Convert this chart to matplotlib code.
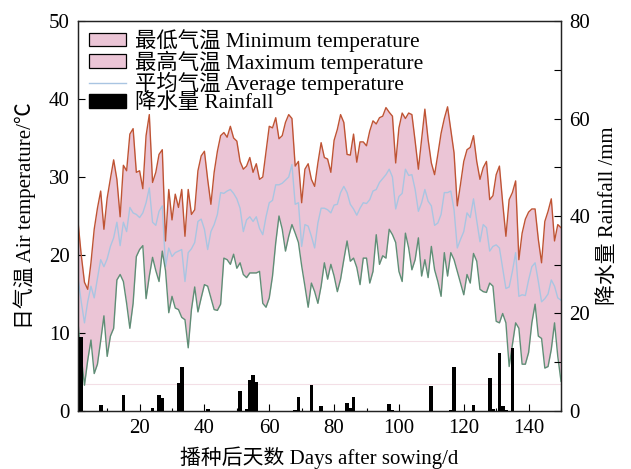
import numpy as np
import matplotlib
matplotlib.use("Agg")
import matplotlib.pyplot as plt
from matplotlib.patches import Patch
from matplotlib.lines import Line2D

plt.rcParams["font.family"] = ["Liberation Serif", "Noto Sans CJK SC"]
plt.rcParams["axes.unicode_minus"] = False

# daily values, days 1..150
days = np.arange(1, 151)

t_max = [
    24.3, 20.0, 16.5, 15.6, 19.0, 23.3, 26.0, 28.2, 23.3, 27.3,
    29.8, 32.2, 29.7, 24.9, 31.5, 30.8, 35.5, 36.2, 30.6, 30.8,
    28.5, 35.3, 38.0, 29.3, 30.6, 32.9, 33.5, 21.8, 28.4, 24.5,
    27.8, 26.1, 28.4, 22.4, 28.4, 25.2, 25.8, 30.8, 32.7, 33.3,
    29.7, 26.5, 30.6, 33.3, 35.3, 35.7, 35.1, 36.5, 35.0, 34.6,
    32.0, 31.0, 31.4, 32.5, 30.6, 31.7, 29.7, 30.0, 33.3, 36.5,
    36.3, 37.6, 34.9, 35.3, 37.0, 38.0, 37.5, 31.4, 32.0, 26.7,
    31.0, 31.7, 29.7, 28.8, 31.8, 34.4, 32.5, 32.3, 30.6, 34.7,
    36.1, 38.0, 37.0, 32.9, 32.8, 35.5, 31.9, 34.5, 34.5, 34.0,
    35.9, 37.2, 36.8, 37.6, 37.8, 38.9, 38.3, 37.8, 31.8, 36.3,
    38.2, 37.5, 38.2, 38.0, 34.6, 31.0, 34.8, 38.7, 34.8, 31.8,
    30.3, 32.9, 35.6, 37.5, 39.0, 36.1, 33.1, 26.3, 29.1, 32.0,
    33.5, 33.8, 35.3, 32.0, 29.7, 31.2, 32.0, 27.1, 27.6, 30.3,
    31.4, 26.7, 22.4, 27.1, 28.0, 29.5, 19.4, 22.8, 24.6, 25.5,
    25.9, 25.9, 22.0, 19.0, 24.3, 25.6, 27.2, 21.8, 23.9, 23.5,
]

t_min = [
    11.3, 7.0, 3.3, 6.5, 9.1, 4.8, 6.0, 9.0, 12.2, 7.0,
    9.6, 10.6, 16.8, 17.5, 16.6, 13.8, 10.6, 13.8, 19.8, 20.7,
    21.2, 14.4, 17.3, 19.7, 18.0, 16.6, 20.5, 18.0, 12.6, 14.7,
    13.2, 13.0, 12.0, 11.7, 8.1, 13.0, 15.9, 12.7, 14.5, 16.2,
    16.0, 14.5, 13.0, 12.9, 13.7, 19.6, 19.4, 18.8, 20.1, 18.3,
    19.0, 17.5, 17.1, 17.7, 17.7, 17.7, 17.9, 13.8, 13.3, 14.5,
    17.3, 21.6, 25.0, 23.3, 20.5, 22.4, 23.9, 22.8, 21.6, 18.6,
    16.0, 13.3, 16.4, 15.3, 13.8, 16.0, 19.0, 16.9, 18.8, 17.3,
    15.3, 16.9, 19.4, 21.8, 19.2, 19.6, 18.4, 16.2, 19.6, 19.6,
    16.4, 17.9, 22.6, 18.8, 19.9, 19.6, 23.3, 22.6, 21.6, 17.9,
    16.6, 22.8, 20.9, 18.1, 19.4, 22.2, 17.3, 19.4, 17.1, 21.1,
    18.1, 16.6, 14.7, 20.3, 17.3, 20.3, 19.4, 17.9, 16.4, 14.9,
    17.5, 16.4, 20.2, 19.2, 15.6, 15.3, 15.2, 16.4, 16.0, 11.5,
    11.3, 12.5, 11.3, 5.7, 8.5, 11.3, 10.6, 6.0, 6.0, 7.5,
    11.3, 13.7, 9.6, 9.3, 5.5, 5.7, 7.9, 11.3, 7.0, 3.8,
]

t_avg = [
    17.1, 14.0, 11.3, 14.0, 16.0, 14.5, 17.0, 19.4, 18.5, 19.5,
    21.1, 22.2, 24.2, 21.2, 24.2, 23.0, 26.1, 25.4, 25.2, 24.8,
    25.4, 26.7, 28.6, 24.2, 23.8, 25.6, 26.3, 18.5, 20.9, 19.8,
    20.3, 20.5, 20.7, 16.6, 20.3, 20.8, 21.6, 24.3, 24.6, 23.3,
    20.7, 23.0, 23.9, 25.2, 28.0, 27.9, 28.2, 28.4, 27.9, 27.2,
    26.0, 23.0, 24.5, 24.9, 24.3, 24.9, 23.4, 22.6, 24.9, 26.7,
    27.0, 29.0, 29.0, 29.2, 29.6, 30.0, 31.6, 26.5, 26.7, 21.1,
    23.9, 23.7, 22.4, 20.9, 24.1, 26.0, 26.0, 25.8, 25.4, 26.4,
    26.5, 28.0, 28.8, 28.0, 26.5, 25.9, 25.1, 26.0, 26.7, 26.6,
    27.1, 28.2, 28.4, 29.3, 29.8, 30.3, 31.0, 30.0, 25.9, 27.5,
    27.9, 31.0, 30.2, 30.3, 28.4, 25.6, 26.7, 28.4, 26.9, 26.3,
    23.8, 24.1, 25.2, 28.0, 28.0, 28.2, 25.8, 20.9, 22.0, 23.0,
    25.4, 24.8, 27.2, 24.4, 21.7, 23.9, 23.5, 20.5, 21.1, 21.3,
    20.9, 18.3, 15.7, 15.9, 17.9, 20.3, 14.7, 14.9, 14.8, 16.8,
    18.5, 19.0, 16.6, 14.0, 14.4, 15.0, 16.8, 16.0, 14.5, 14.2,
]

rain_days = [2, 8, 15, 24, 26, 27, 32, 33, 41, 51, 53, 54, 55, 56, 68, 69,
             73, 76, 84, 85, 86, 97, 98, 110, 116, 117, 123, 128, 129, 131,
             132, 133, 135]
rain_mm = [15.2, 1.2, 3.3, 0.6, 3.3, 2.7, 5.7, 9.1, 0.4, 4.0, 0.4, 6.4, 7.3,
           6.0, 0.3, 2.8, 5.3, 1.0, 1.6, 0.6, 2.8, 1.4, 0.3, 5.2, 0.3, 9.1,
           1.2, 6.7, 0.5, 11.9, 1.0, 0.3, 12.9]

FILL = "#ebc5d6"
RED = "#bf5434"
GREEN = "#5f8e76"
BLUE = "#a9c5e2"
FS = 15

fig = plt.figure(figsize=(6.31, 4.69), dpi=100)
ax = fig.add_axes([0.1236, 0.1237, 0.7655, 0.8315])

for yv in (9.0, 3.45):
    ax.axhline(yv, color="#f3dfe6", lw=0.8, zorder=0)

ax.fill_between(days, t_min, t_max, color=FILL, linewidth=0, zorder=1)
ax.plot(days, t_avg, color=BLUE, lw=1.0, zorder=2)
ax.plot(days, t_max, color=RED, lw=1.0, zorder=3)
ax.plot(days, t_min, color=GREEN, lw=1.0, zorder=3)

ax.set_xlim(1, 150)
ax.set_ylim(0, 50)
ax.set_xticks(range(20, 141, 20))
ax.set_xticks(range(10, 151, 20), minor=True)
ax.set_yticks(range(0, 51, 10))
ax.tick_params(axis="x", which="major", direction="in", length=5, width=0.8,
               labelsize=FS, pad=6)
ax.tick_params(axis="x", which="minor", direction="in", length=2.3, width=0.8)
ax.tick_params(axis="y", direction="in", length=5, width=0.8, labelsize=FS,
               pad=6)
ax.set_xlabel("播种后天数 Days after sowing/d", fontsize=FS, labelpad=6)
ax.set_ylabel("日气温 Air temperature/℃", fontsize=FS, labelpad=9)

ax2 = ax.twinx()
ax2.bar(rain_days, rain_mm, width=1.15, color="black", linewidth=0, zorder=4)
ax2.set_ylim(0, 80)
ax2.set_yticks(range(0, 81, 20))
ax2.set_yticks(range(10, 80, 20), minor=True)
ax2.tick_params(axis="y", which="both", direction="in", length=5, width=0.8,
                labelsize=FS, pad=6)
ax2.set_ylabel("降水量 Rainfall /mm", fontsize=FS, labelpad=6)

for a in (ax, ax2):
    for sp in a.spines.values():
        sp.set_linewidth(0.9)
        sp.set_color("#222222")

handles = [
    Patch(facecolor=FILL, edgecolor="black", linewidth=0.9),
    Patch(facecolor=FILL, edgecolor="black", linewidth=0.9),
    Line2D([0], [0], color=BLUE, lw=1.0),
    Patch(facecolor="black", edgecolor="black"),
]
labels = [
    "最低气温 Minimum temperature",
    "最高气温 Maximum temperature",
    "平均气温 Average temperature",
    "降水量 Rainfall",
]
ax2.legend(handles, labels, loc="upper left", bbox_to_anchor=(0.007, 0.998),
           frameon=False, fontsize=15.4, handlelength=1.75, handleheight=0.6,
           handletextpad=0.4, labelspacing=-0.08, borderaxespad=0.3,
           borderpad=0.05)

fig.savefig("out.png", dpi=100)
